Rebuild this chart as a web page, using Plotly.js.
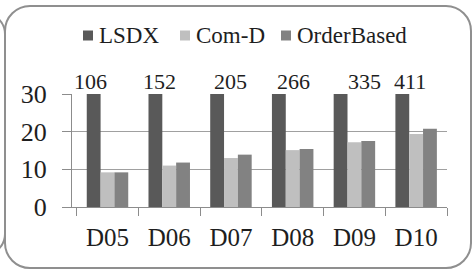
<!DOCTYPE html>
<html><head><meta charset="utf-8">
<script src="https://cdn.plot.ly/plotly-3.0.1.min.js"></script>
<style>
html,body{margin:0;padding:0;background:#fff;overflow:hidden;width:473px;height:272px;font-family:'Liberation Serif'}
#chart{position:absolute;left:0;top:0;width:473px;height:272px}
.frame{position:absolute;border:2px solid #8f8f8f;pointer-events:none;box-sizing:border-box}
.warm{position:absolute;left:0;top:0;color:#fff;font-size:10px;font-family:'Liberation Serif'}
</style></head><body>
<div class="warm">LSDX</div>
<div id="chart"></div>
<div class="frame" style="left:-60px;top:12px;width:66px;height:244px;border-radius:22px"></div>
<div class="frame" style="left:4px;top:5px;width:468px;height:264px;border-radius:26px"></div>
<script>
// ---- data ----
const categories = ['D05','D06','D07','D08','D09','D10'];
const seriesNames = ['LSDX','Com-D','OrderBased'];
const lsdx = [106,152,205,266,335,411];
const comD = [9.2,11.0,13.0,15.1,17.2,19.4];
const orderBased = [9.2,11.8,13.9,15.4,17.5,20.8];
const yTickVals = [0,10,20,30];

// ---- style / layout ----
const colors = ['#595959','#bfbfbf','#828282'];
const W = 473, H = 272;
const M = {l:72, r:26, t:94, b:65};
const PW = W - M.l - M.r, PH = H - M.t - M.b;
const bargap = 0.328;
const fontFam = 'Liberation Serif';
const txt = '#1e1e1e';
const gray = '#8c8c8c';
// data-label nudges (pixels) relative to the LSDX bar, as placed in the source chart
const labelNudge = [-3, 4, 14, 15, 24, 8];
// legend item left edges (pixels)
const legendItemX = [83, 180, 281];
const legendY = 35.5;

const px2paperX = px => (px - M.l) / PW;
const px2paperY = py => 1 - (py - M.t) / PH;

const values = [lsdx, comD, orderBased];
const traces = values.map((v, i) => ({
  type: 'bar', x: categories, y: v, name: seriesNames[i],
  marker: {color: colors[i], line: {width: 0}},
  hoverinfo: 'x+y+name'
}));

const catW = PW / categories.length;
const barOffset = -catW * (1 - bargap) / 3;

const annotations = categories.map((c, i) => ({
  x: c, y: yTickVals[yTickVals.length - 1], xref: 'x', yref: 'y',
  text: String(lsdx[i]), showarrow: false,
  xanchor: 'center', yanchor: 'bottom',
  xshift: barOffset + labelNudge[i], yshift: -2,
  font: {family: fontFam, size: 22, color: txt}
}));

const shapes = [];
seriesNames.forEach((n, i) => {
  annotations.push({
    x: px2paperX(legendItemX[i] + 14), y: px2paperY(legendY), xref: 'paper', yref: 'paper',
    text: n, showarrow: false, xanchor: 'left', yanchor: 'middle',
    font: {family: fontFam, size: 23, color: txt}
  });
  shapes.push({
    type: 'rect', xref: 'paper', yref: 'paper',
    xsizemode: 'pixel', ysizemode: 'pixel',
    xanchor: px2paperX(legendItemX[i]), yanchor: px2paperY(legendY),
    x0: 0, x1: 10, y0: -5, y1: 5,
    fillcolor: colors[i], line: {width: 0}
  });
});

const layout = {
  width: W, height: H, margin: M,
  paper_bgcolor: 'rgba(0,0,0,0)', plot_bgcolor: '#fff',
  barmode: 'group', bargap: bargap, bargroupgap: 0,
  showlegend: false,
  font: {family: fontFam, color: txt},
  xaxis: {
    type: 'category', showline: true, linecolor: gray, linewidth: 1,
    ticks: 'outside', ticklen: 8, tickcolor: gray, tickson: 'boundaries',
    tickfont: {family: fontFam, size: 25, color: txt},
    ticklabelstandoff: 8, showgrid: false, zeroline: false
  },
  yaxis: {
    range: [0, 30], tickvals: yTickVals, ticktext: yTickVals.map(String),
    showline: true, linecolor: gray, linewidth: 1,
    ticks: 'outside', ticklen: 9, tickcolor: gray,
    showgrid: true, gridcolor: '#a0a0a0', gridwidth: 1, zeroline: false,
    tickfont: {family: fontFam, size: 26, color: txt},
    ticklabelstandoff: 10
  },
  annotations: annotations,
  shapes: shapes
};

Plotly.newPlot('chart', traces, layout, {displayModeBar: false});
</script>
</body></html>
